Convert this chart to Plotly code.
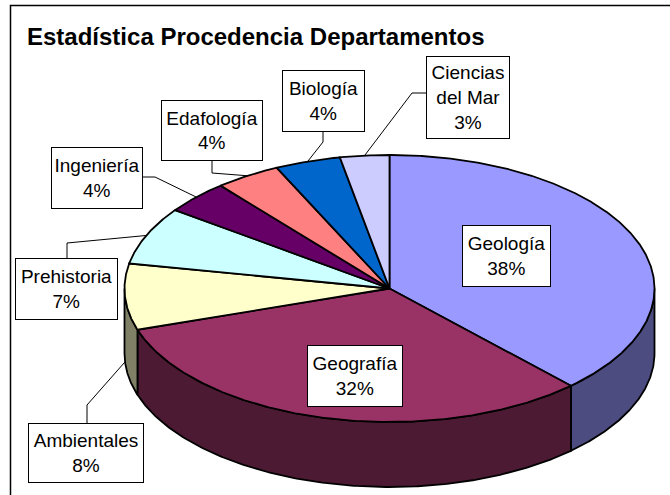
import numpy as np
import plotly.graph_objects as go

# ---------------- data ----------------
categories = ["Geología", "Geografía", "Ambientales", "Prehistoria",
              "Ingeniería", "Edafología", "Biología", "Ciencias del Mar"]
values = [38, 32, 8, 7, 4, 4, 4, 3]
top_colors = ["#9999FF", "#993366", "#FFFFCC", "#CCFFFF",
              "#660066", "#FF8080", "#0066CC", "#CCCCFF"]
title_text = "Estadística Procedencia Departamentos"

# ---------------- layout / geometry (pixel-like axes) ----------------
W, H = 670, 495
CX, CY, RX, RY, DEPTH = 389.5, 288.5, 265.0, 133.5, 65.0
FONT = "Liberation Sans, Arial, sans-serif"

# label boxes: center x, center y, width, height, leader path (box point, elbow), anchor depth fraction
label_layout = {
    "Geología":         dict(cx=506.5, cy=256, w=89, h=62, leader=None),
    "Geografía":        dict(cx=355, cy=376, w=96, h=62, leader=None),
    "Ambientales":      dict(cx=86, cy=453, w=116, h=60, leader=[(87, 423), (87, 405)], depth=1.0),
    "Prehistoria":      dict(cx=66.5, cy=289, w=103, h=62, leader=[(67, 258), (67, 243)], depth=0.0),
    "Ingeniería":       dict(cx=97, cy=178, w=92, h=62, leader=[(143, 177), (155, 177)], depth=0.0),
    "Edafología":       dict(cx=212, cy=130.5, w=102, h=61, leader=[(212, 161), (212, 173)], depth=0.0),
    "Biología":         dict(cx=323.5, cy=101, w=83, h=62, leader=[(323, 132), (323, 142)], depth=0.0),
    "Ciencias del Mar": dict(cx=468, cy=97.5, w=84, h=83, leader=[(426, 93), (412, 93)], depth=0.0),
}


def shade(hexc, f=0.5):
    hexc = hexc.lstrip("#")
    r, g, b = (int(hexc[i:i + 2], 16) for i in (0, 2, 4))
    return "rgb(%d,%d,%d)" % (round(r * f), round(g * f), round(b * f))


def ell(theta_deg, dy=0.0):
    t = np.radians(theta_deg)
    return CX + RX * np.sin(t), CY - RY * np.cos(t) + dy


def wrap(name):
    words = name.split()
    if len(words) > 1 and len(name) > 12:
        return words[0] + "<br>" + " ".join(words[1:])
    return name


total = float(sum(values))
bounds = []
acc = 0.0
for v in values:
    a0 = acc / total * 360.0
    acc += v
    a1 = acc / total * 360.0
    bounds.append((a0, a1))

fig = go.Figure()

# side walls (visible front half: 90..270 degrees clockwise from top)
for (a0, a1), col in zip(bounds, top_colors):
    s0, s1 = max(a0, 90.0), min(a1, 270.0)
    if s1 <= s0:
        continue
    th = np.linspace(s0, s1, 200)
    xt, yt = ell(th)
    xb, yb = ell(th[::-1], DEPTH)
    xs = np.concatenate([xt, xb, xt[:1]])
    ys = np.concatenate([yt, yb, yt[:1]])
    fig.add_trace(go.Scatter(x=xs, y=ys, mode="lines", fill="toself",
                             fillcolor=shade(col), line=dict(color="black", width=1.8),
                             hoverinfo="skip", showlegend=False))

# top faces
for (a0, a1), col, name in zip(bounds, top_colors, categories):
    th = np.linspace(a0, a1, max(int((a1 - a0) * 3), 10))
    xa, ya = ell(th)
    xs = np.concatenate([[CX], xa, [CX]])
    ys = np.concatenate([[CY], ya, [CY]])
    fig.add_trace(go.Scatter(x=xs, y=ys, mode="lines", fill="toself",
                             fillcolor=col, line=dict(color="black", width=1.8),
                             name=name, hoverinfo="name", showlegend=False))

# leader lines
for (a0, a1), name in zip(bounds, categories):
    lay = label_layout[name]
    if not lay["leader"]:
        continue
    mid = (a0 + a1) / 2.0
    ax, ay = ell(mid, DEPTH * lay.get("depth", 0.0))
    pts = lay["leader"] + [(ax, ay)]
    fig.add_trace(go.Scatter(x=[p[0] for p in pts], y=[p[1] for p in pts], mode="lines",
                             line=dict(color="black", width=1), hoverinfo="skip",
                             showlegend=False))

annotations = []
for v, name in zip(values, categories):
    lay = label_layout[name]
    pct = round(v / total * 100)
    annotations.append(dict(
        x=lay["cx"], y=lay["cy"], xref="x", yref="y",
        text=f"{wrap(name)}<br>{pct}%", showarrow=False,
        width=lay["w"] - 2, height=lay["h"] - 2, align="center", valign="middle",
        bgcolor="white", bordercolor="black", borderwidth=1, borderpad=0,
        font=dict(family=FONT, size=19, color="black")))

annotations.append(dict(
    x=25, y=36, xref="x", yref="y", xanchor="left", yanchor="middle",
    text=f"<b>{title_text}</b>", showarrow=False,
    font=dict(family=FONT, size=24, color="black")))

fig.update_layout(
    width=W, height=H, margin=dict(l=0, r=0, t=0, b=0),
    paper_bgcolor="white", plot_bgcolor="white",
    xaxis=dict(range=[0, W], visible=False, fixedrange=True),
    yaxis=dict(range=[H, 0], visible=False, fixedrange=True),
    annotations=annotations,
    shapes=[dict(type="rect", xref="x", yref="y", x0=10.5, y0=5.5, x1=720, y1=540,
                 line=dict(color="black", width=1.5), fillcolor="rgba(0,0,0,0)", layer="below")],
    showlegend=False,
)

fig.write_html("out.html", config={"displayModeBar": False},
               post_script="document.body.style.margin='0px';document.body.style.overflow='hidden';")
